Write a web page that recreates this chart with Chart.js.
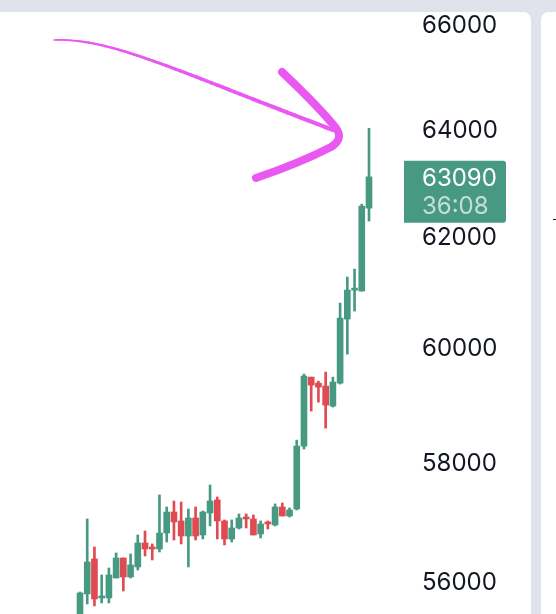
<!DOCTYPE html>
<html>
<head>
<meta charset="utf-8">
<script src="https://cdn.jsdelivr.net/npm/chart.js@4.4.1/dist/chart.umd.min.js"></script>
<style>
  html, body { margin: 0; padding: 0; background: #e0e3eb; }
  #wrap { width: 556px; height: 614px; position: relative; }
</style>
</head>
<body>
<div id="wrap"><canvas id="candles"></canvas></div>
<script>
// candle values (oldest first)
const opens  = [55376, 55786, 56365, 55720, 55720, 56050, 56381, 56066, 56232, 56631,
                56565, 56531, 56798, 57151, 57000, 56748, 57050, 56765, 57135, 57355,
                57000, 56698, 56882, 57067, 57034, 56782, 56983, 56933, 57236, 57084,
                57202, 58273, 59471, 59366, 59314, 58965, 59366, 60498, 61017, 61000,
                62511];
const highs  = [55818, 57034, 56565, 56099, 56215, 56465, 56381, 56448, 56765, 56832,
                56615, 57439, 57236, 57337, 57320, 57202, 57236, 57168, 57609, 57405,
                57017, 57017, 57118, 57118, 57101, 57000, 57000, 57287, 57303, 57219,
                58376, 59524, 59471, 59401, 59559, 59471, 60784, 61252, 61396, 62585,
                64000];
const lows   = [55300, 55621, 55589, 55638, 55638, 56050, 55835, 56050, 56182, 56414,
                56348, 56481, 56648, 56681, 56615, 56232, 56681, 56698, 56916, 56698,
                56598, 56648, 56866, 56882, 56765, 56715, 56866, 56916, 57084, 57067,
                57185, 58222, 58878, 59034, 58583, 58947, 59349, 59876, 60641, 61000,
                62272];
const closes = [55802, 56315, 55703, 55753, 56099, 56381, 56066, 56265, 56631, 56531,
                56531, 56798, 57151, 56983, 56748, 57050, 56748, 57151, 57337, 57000,
                56698, 56882, 57050, 57034, 56765, 56949, 56949, 57236, 57084, 57185,
                58273, 59489, 59331, 59296, 58982, 59384, 60515, 61017, 61053, 62548,
                63090];
const yTicks = [56000, 58000, 60000, 62000, 64000, 66000];
const lastPrice = 63090;
const countdown = '36:08';

const UP = '#479a81';
const DOWN = '#e04b52';
const colors = opens.map((o, i) => (closes[i] >= o ? UP : DOWN));

function roundedRect(ctx, x, y, w, h, r) {
  const [tl, tr, br, bl] = Array.isArray(r) ? r : [r, r, r, r];
  ctx.beginPath();
  ctx.moveTo(x + tl, y);
  ctx.lineTo(x + w - tr, y);
  ctx.arcTo(x + w, y, x + w, y + tr, tr);
  ctx.lineTo(x + w, y + h - br);
  ctx.arcTo(x + w, y + h, x + w - br, y + h, br);
  ctx.lineTo(x + bl, y + h);
  ctx.arcTo(x, y + h, x, y + h - bl, bl);
  ctx.lineTo(x, y + tl);
  ctx.arcTo(x, y, x + tl, y, tl);
  ctx.closePath();
}

const panelsPlugin = {
  id: 'panels',
  beforeDraw(chart) {
    const { ctx, width, height } = chart;
    ctx.save();
    ctx.fillStyle = '#e0e3eb';
    ctx.fillRect(0, 0, width, height);
    ctx.fillStyle = '#ffffff';
    roundedRect(ctx, -20, 12, 551, height + 20, 8);
    ctx.fill();
    roundedRect(ctx, 541, 12, 60, height + 20, 8);
    ctx.fill();
    ctx.fillStyle = '#131722';
    ctx.fillRect(553, 219, 3, 1);
    ctx.restore();
  },
};

const priceLabelPlugin = {
  id: 'priceLabel',
  afterDraw(chart) {
    const { ctx, chartArea } = chart;
    const y = chart.scales.y.getPixelForValue(lastPrice);
    const x = chartArea.right + 1;
    ctx.save();
    ctx.fillStyle = UP;
    roundedRect(ctx, x, y - 16, 102, 62, [0, 3, 3, 0]);
    ctx.fill();
    ctx.font = "24px Inter, 'Liberation Sans', sans-serif";
    ctx.textAlign = 'left';
    ctx.textBaseline = 'middle';
    ctx.fillStyle = '#ffffff';
    ctx.fillText(String(lastPrice), chartArea.right + 19, y + 2);
    ctx.fillStyle = 'rgba(255,255,255,0.68)';
    ctx.fillText(countdown, chartArea.right + 19, y + 30);
    ctx.restore();
  },
};

// hand drawn pink arrow on top of the chart
const arrowPlugin = {
  id: 'arrow',
  afterDraw(chart) {
    const { ctx } = chart;
    const p0 = [54, 40], p1 = [110, 38], p2 = [170, 68], p3 = [333, 130];
    const pt = (t) => {
      const u = 1 - t;
      return [
        u * u * u * p0[0] + 3 * u * u * t * p1[0] + 3 * u * t * t * p2[0] + t * t * t * p3[0],
        u * u * u * p0[1] + 3 * u * u * t * p1[1] + 3 * u * t * t * p2[1] + t * t * t * p3[1],
      ];
    };
    ctx.save();
    ctx.strokeStyle = '#ea58f2';
    ctx.lineCap = 'round';
    ctx.lineJoin = 'round';
    const steps = 60;
    let prev = pt(0);
    for (let i = 1; i <= steps; i++) {
      const t = i / steps;
      const cur = pt(t);
      ctx.lineWidth = 1.6 + 2.6 * t;
      ctx.beginPath();
      ctx.moveTo(prev[0], prev[1]);
      ctx.lineTo(cur[0], cur[1]);
      ctx.stroke();
      prev = cur;
    }
    ctx.lineWidth = 8;
    ctx.beginPath();
    ctx.moveTo(282, 72);
    ctx.quadraticCurveTo(318, 106, 336, 128);
    ctx.quadraticCurveTo(344, 139, 331, 147);
    ctx.quadraticCurveTo(300, 163, 256, 178);
    ctx.stroke();
    ctx.restore();
  },
};

const wickData = lows.map((l, i) => ({ x: i, y: [l, highs[i]] }));
const bodyData = opens.map((o, i) => ({ x: i, y: [o, closes[i]] }));

new Chart(document.getElementById('candles'), {
  type: 'bar',
  data: {
    datasets: [
      {
        label: 'body',
        data: bodyData,
        backgroundColor: colors,
        barThickness: 6,
        minBarLength: 1,
        grouped: false,
        borderWidth: 0,
        borderSkipped: false,
      },
      {
        label: 'wick',
        data: wickData,
        backgroundColor: colors,
        barThickness: 2,
        grouped: false,
        borderWidth: 0,
        borderSkipped: false,
      },
    ],
  },
  options: {
    responsive: true,
    maintainAspectRatio: false,
    animation: false,
    layout: { padding: { top: 12, left: 0, right: 0, bottom: 0 } },
    plugins: {
      legend: { display: false },
      tooltip: { enabled: false },
    },
    scales: {
      x: {
        type: 'linear',
        display: false,
        offset: false,
        bounds: 'data',
        min: -80 / 7.225,
        max: (403 - 80) / 7.225,
      },
      y: {
        type: 'logarithmic',
        position: 'right',
        bounds: 'data',
        min: 55457,
        max: 66234,
        grid: { display: false, drawTicks: false },
        border: { display: false },
        ticks: {
          padding: 19,
          labelOffset: 2,
          color: '#131722',
          font: { family: "Inter, 'Liberation Sans', sans-serif", size: 24 },
          callback: (v) => String(v),
        },
        afterBuildTicks: (s) => {
          s.ticks = yTicks.map((v) => ({ value: v }));
        },
        afterFit: (s) => {
          s.width = 153;
          s.paddingTop = 0;
          s.paddingBottom = 0;
        },
      },
    },
  },
  plugins: [panelsPlugin, priceLabelPlugin, arrowPlugin],
});
</script>
</body>
</html>
